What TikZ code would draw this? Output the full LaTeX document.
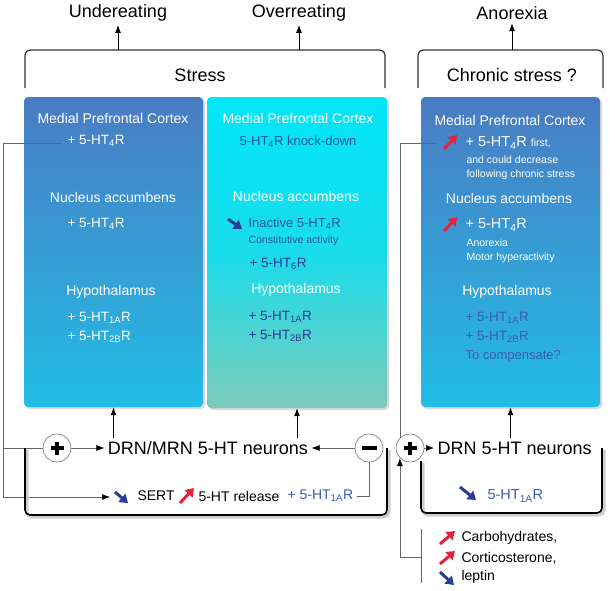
\documentclass[tikz,border=0pt]{standalone}
\usepackage{fontspec}
\setmainfont{Liberation Sans}
\usetikzlibrary{arrows.meta,shadows}

\definecolor{boxtop}{HTML}{4A7CC2}
\definecolor{boxbot}{HTML}{22BDE6}
\definecolor{cyantop}{HTML}{00E6F7}
\definecolor{cyanmid}{HTML}{1ADCEB}
\definecolor{cyanbot}{HTML}{7DCBBB}
\definecolor{kdblue}{HTML}{2457A8}
\definecolor{midblue}{HTML}{3A5DB3}
\definecolor{upred}{HTML}{E8203C}
\definecolor{dnblue}{HTML}{283C94}

\newcommand{\fs}[1]{\fontsize{#1}{#1}\selectfont}
\newcommand{\rec}[1]{5-HT\textsubscript{#1}R}

\tikzset{
  area/.style={rounded corners=4pt, minimum width=179pt, minimum height=310pt,
    drop shadow={opacity=0.3, shadow xshift=2pt, shadow yshift=-2pt}},
  topbr/.style={draw=black!80, line width=1.2pt, rounded corners=5pt},
  botbr/.style={draw=black, line width=1.6pt, rounded corners=5pt,
    preaction={draw=black!20, line width=3pt, transform canvas={shift={(2pt,-2pt)}}}},
  conn/.style={draw=black!60, line width=0.6pt},
  arr/.style={draw=black, line width=1pt, -{Latex[length=8pt,width=6pt]}},
  arrg/.style={conn, -{Latex[length=8pt,width=6pt,color=black]}},
  fatup/.style={draw=upred, line width=3pt, -{Triangle[length=8pt,width=10.5pt]}},
  fatdn/.style={draw=dnblue, line width=3pt, -{Triangle[length=8pt,width=10.5pt]}},
  sign/.style={circle, draw=black!55, line width=0.6pt, fill=white, minimum size=28pt, inner sep=0pt},
  plus/.style={sign, path picture={
    \draw[black, line width=3.6pt] ([xshift=-6.5pt]path picture bounding box.center) -- ([xshift=6.5pt]path picture bounding box.center);
    \draw[black, line width=3.6pt] ([yshift=-6.5pt]path picture bounding box.center) -- ([yshift=6.5pt]path picture bounding box.center);}},
  minus/.style={sign, path picture={
    \draw[black, line width=4.5pt] ([xshift=-7.5pt]path picture bounding box.center) -- ([xshift=7.5pt]path picture bounding box.center);}},
  head/.style={text=white, font=\fs{14}},
  item/.style={anchor=west, font=\fs{13.5}},
  note/.style={anchor=west, font=\fs{10.5}}
}

\begin{document}
\begin{tikzpicture}[x=1pt,y=-1pt]
\useasboundingbox (0,0) rectangle (615,590);

\node[font=\fs{18}] (under) at (118,13) {Undereating};
\node[font=\fs{18}] (over) at (299,13) {Overreating};
\node[font=\fs{18}] (anor) at (512,13) {Anorexia};
\coordinate (sttop) at (200,50);
\draw[topbr] (25,88) -- (25,50) -- (385,50) -- (385,88);
\node[font=\fs{18}] (stress) at (200,75) {Stress};
\draw[topbr] (418,88) -- (418,50) -- (603,50) -- (603,88);
\node[font=\fs{18}] (chronic) at (512,75) {Chronic stress ?};
\draw[arr] (under |- sttop) -- (under);
\draw[arr] (over |- sttop) -- (over);
\draw[arr] (anor |- sttop) -- (anor);

\node[area, top color=boxtop, bottom color=boxbot] (left) at (113.5,252) {};
\node[area, top color=cyantop, bottom color=cyanbot, middle color=cyanmid, minimum width=180pt, minimum height=311pt] (mid) at (297,252.5) {};
\node[area, top color=boxtop, bottom color=boxbot] (right) at (510.5,252) {};

\node[head] (l1) at (113,118) {Medial Prefrontal Cortex};
\node[item, text=white] (l2) at (64,141) {+ \rec{4}};
\node[head] (l3) at (113,197) {Nucleus accumbens};
\node[item, text=white] (l4) at (64,224) {+ \rec{4}};
\node[head] (l5) at (111,292) {Hypothalamus};
\node[item, text=white] (l6) at (64,318) {+ \rec{1A}};
\node[item, text=white] (l7) at (64,337) {+ \rec{2B}};

\node[head] (m1) at (298,118) {Medial Prefrontal Cortex};
\node[font=\fs{13}, text=kdblue] (m2) at (298,142) {\rec{4} knock-down};
\node[head] (m3) at (296,196) {Nucleus accumbens};
\draw[fatdn] (228,219) -- (242,229);
\node[item, font=\fs{13}, text=kdblue] (m4) at (245,224) {Inactive \rec{4}};
\node[note, text=kdblue] (m5) at (245,241) {Constitutive activity};
\node[item, text=dnblue] (m6) at (246,264) {+ \rec{6}};
\node[head] (m7) at (296,290) {Hypothalamus};
\node[item, text=dnblue] (m8) at (245,317) {+ \rec{1A}};
\node[item, text=dnblue] (m9) at (245,336) {+ \rec{2B}};

\node[head] (r1) at (510,120) {Medial Prefrontal Cortex};
\draw[fatup] (444,149) -- (457,135);
\node[item, font=\fs{14.5}, text=white] (r2) at (462,143) {+ \rec{4} {\fs{10.5}first,}};
\node[note, text=white] (r3) at (463,160) {and could decrease};
\node[note, text=white] (r4) at (463,175) {following chronic stress};
\node[head] (r5) at (509,198) {Nucleus accumbens};
\draw[fatup] (444,231) -- (457,217);
\node[item, font=\fs{14.5}, text=white] (r6) at (462,225) {+ \rec{4}};
\node[note, text=white] (r7) at (463,243) {Anorexia};
\node[note, text=white] (r8) at (463,258) {Motor hyperactivity};
\node[head] (r9) at (507,292) {Hypothalamus};
\node[item, text=midblue] (r10) at (462,318) {+ \rec{1A}};
\node[item, text=midblue] (r11) at (462,337) {+ \rec{2B}};
\node[item, font=\fs{13}, text=midblue] (r12) at (462,356) {To compensate?};

\node[font=\fs{18}] (drn) at (208,448) {DRN/MRN 5-HT neurons};
\node[plus] (plusl) at (57,448) {};
\node[minus] (minus) at (369,448) {};
\draw[arrg] (plusl) -- (drn);
\draw[arrg] (minus) -- (drn);
\draw[arr] (drn.north -| left.south) -- (left.south);
\draw[arr] (drn.north -| mid.south) -- (mid.south);

\draw[fatdn] (115,492) -- (128,503);
\node[item, font=\fs{14}] (sert) at (134,496) {SERT};
\draw[fatup] (180,503) -- (194,488);
\node[item, font=\fs{14}] (rel) at (195,496) {5-HT release};
\node[item, font=\fs{14}, text=midblue] (auto) at (284,496) {+ \rec{1A}};
\coordinate (sertin) at (110,497);
\coordinate (mpfcl) at (62,143);
\coordinate (loopl) at (3,143);
\draw[conn] (mpfcl) -- (loopl) |- (plusl);
\draw[arrg] (loopl |- plusl) |- (sertin);
\draw[conn] (minus) |- (auto);
\draw[botbr] (25,448) -- (25,515) -- (387,515) -- (387,448);

\node[plus] (plusr) at (410,448) {};
\node[font=\fs{18}, anchor=west] (drnr) at (434,448) {DRN 5-HT neurons};
\draw[arrg] (plusr) -- (drnr);
\draw[arr] (drnr.north -| right.south) -- (right.south);
\draw[botbr] (421,461) -- (421,513) -- (602,513) -- (602,448);
\draw[fatdn] (460,487) -- (476,500);
\node[item, font=\fs{14.5}, text=midblue] (autor) at (484,496) {\rec{1A}};
\coordinate (mpfcr) at (437,143);
\draw[conn] (mpfcr) -| (plusr.north west);

\coordinate (food) at (421,557);
\coordinate (foodtop) at (421,529);
\coordinate (foodbot) at (421,583);
\draw[conn] (foodtop) -- (foodbot);
\draw[arrg] (food) -| (plusr.south west);
\draw[fatup] (440,544) -- (455,531);
\node[item, font=\fs{14}] (carb) at (458,538) {Carbohydrates,};
\draw[fatup] (440,564) -- (455,551);
\node[item, font=\fs{14}] (cort) at (458,558) {Corticosterone,};
\draw[fatdn] (440,572) -- (454,585);
\node[item, font=\fs{14}] (lep) at (458,577) {leptin};
\end{tikzpicture}
\end{document}
